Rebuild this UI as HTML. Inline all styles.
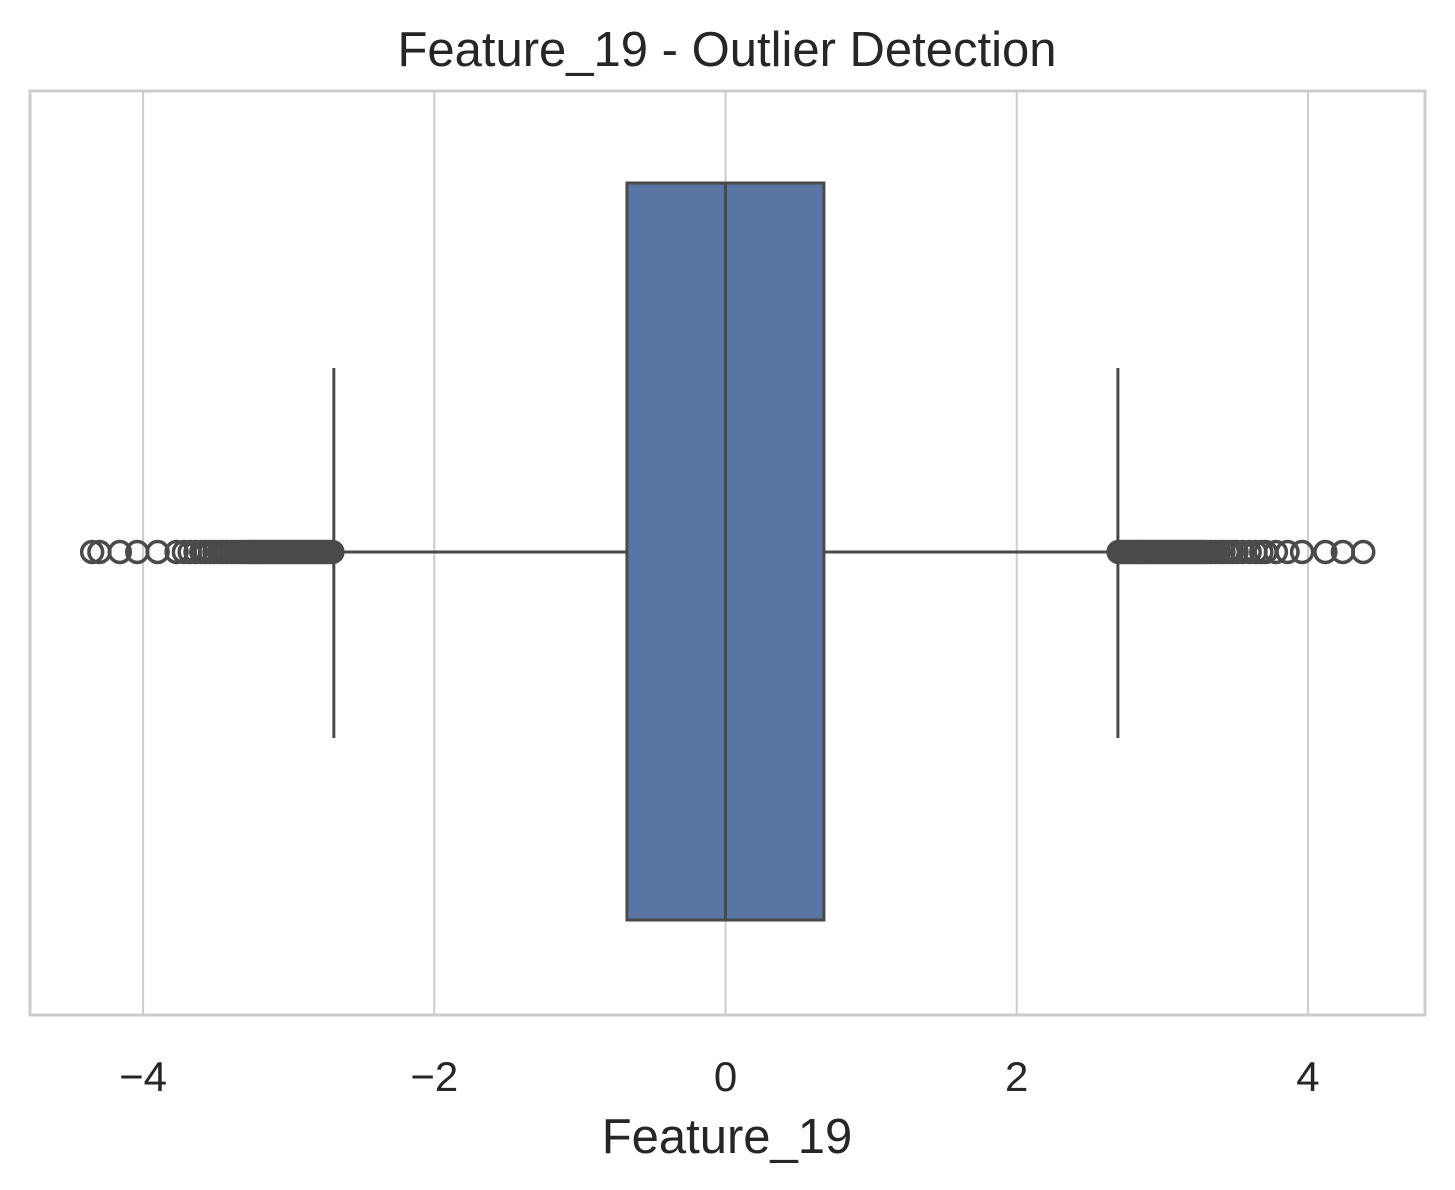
<!DOCTYPE html>
<html><head><meta charset="utf-8"><style>
html,body{margin:0;padding:0;background:#fff;}
svg{display:block;font-family:"Liberation Sans",Arial,sans-serif;}
</style></head><body>
<svg id="chart" width="1455" height="1190" viewBox="0 0 1455 1190">
<rect x="0" y="0" width="1455" height="1190" fill="#fff"/>
<g id="grid"></g>
<g id="plot"></g>
<rect x="30" y="91" width="1395" height="924" fill="none" stroke="#cccccc" stroke-width="3"/>
<g id="ticks"></g>
<text x="727" y="66" text-anchor="middle" font-size="49" fill="#262626">Feature_19 - Outlier Detection</text>
<text x="727" y="1153" text-anchor="middle" font-size="49" fill="#262626">Feature_19</text>
</svg>
<script>
const tickValues = [-4, -2, 0, 2, 4];
const tickLabels = ["\u22124", "\u22122", "0", "2", "4"];
const boxStats = [-2.69, -0.677, 0.0, 0.676, 2.695]; // whiskerLow, q1, median, q3, whiskerHigh
const lowOutliers = [-4.35,-4.3,-4.16,-4.04,-3.9,-3.77,-3.72,-3.68,-3.64,-3.6,-3.57,-3.54,-3.51,-3.48,-3.45,-3.42,-3.39,-3.36,-3.33,-3.3,-3.28,-3.26,-3.24,-3.22,-3.2,-3.18,-3.16,-3.14,-3.12,-3.1,-3.08,-3.06,-3.04,-3.02,-3.0,-2.98,-2.96,-2.94,-2.92,-2.9,-2.88,-2.86,-2.84,-2.82,-2.8,-2.78,-2.76,-2.74,-2.72,-2.7];
const highOutliers = [2.7,2.72,2.74,2.76,2.78,2.8,2.82,2.84,2.86,2.88,2.9,2.92,2.94,2.96,2.98,3.0,3.02,3.04,3.06,3.08,3.1,3.12,3.14,3.16,3.18,3.2,3.22,3.24,3.26,3.28,3.3,3.33,3.36,3.39,3.42,3.45,3.48,3.51,3.55,3.6,3.64,3.68,3.71,3.78,3.86,3.96,4.12,4.24,4.38];

const NS="http://www.w3.org/2000/svg";
const x = v => 725.5 + v*145.6;
const yc = 552, boxTop = 183, boxBot = 920, capTop = 368, capBot = 738;
function mk(tag, attrs, parent){const e=document.createElementNS(NS,tag);for(const k in attrs)e.setAttribute(k,attrs[k]);parent.appendChild(e);return e;}
const grid=document.getElementById('grid'), plot=document.getElementById('plot'), ticks=document.getElementById('ticks');
tickValues.forEach((v,i)=>{
  const l=mk('line',{x1:x(v),x2:x(v),y1:91,y2:1015,stroke:'#cccccc','stroke-width':2},grid);
  
  
  const t=mk('text',{x:x(v),y:1091,'text-anchor':'middle','font-size':42,fill:'#262626'},ticks);
  t.textContent=tickLabels[i];
  
  
});
const C='#4a4a4a';
const w1=mk('line',{x1:x(boxStats[0]),x2:x(boxStats[1]),y1:yc,y2:yc,stroke:C,'stroke-width':3},plot);


const w2=mk('line',{x1:x(boxStats[3]),x2:x(boxStats[4]),y1:yc,y2:yc,stroke:C,'stroke-width':3},plot);


const c1=mk('line',{x1:x(boxStats[0]),x2:x(boxStats[0]),y1:capTop,y2:capBot,stroke:C,'stroke-width':3},plot);


const c2=mk('line',{x1:x(boxStats[4]),x2:x(boxStats[4]),y1:capTop,y2:capBot,stroke:C,'stroke-width':3},plot);


const box=mk('rect',{x:x(boxStats[1]),y:boxTop,width:x(boxStats[3])-x(boxStats[1]),height:boxBot-boxTop,fill:'#5975a4',stroke:C,'stroke-width':3},plot);


const med=mk('line',{x1:x(boxStats[2]),x2:x(boxStats[2]),y1:boxTop,y2:boxBot,stroke:C,'stroke-width':3},plot);


lowOutliers.concat(highOutliers).forEach(v=>{
  const c=mk('circle',{cx:x(v),cy:yc,r:10.5,fill:'none',stroke:C,'stroke-width':3.5},plot);
  
  
});
</script>
</body></html>
